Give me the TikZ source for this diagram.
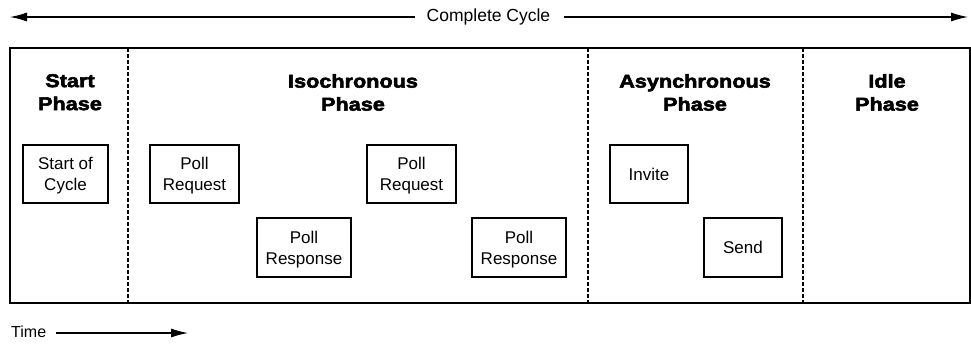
\documentclass[tikz,border=0pt]{standalone}
\usepackage{fontspec}
\setmainfont{Liberation Sans}
\newfontfamily\hdfont[FakeBold=3,FakeStretch=1.17]{Liberation Sans Bold}
\usetikzlibrary{arrows.meta}
\begin{document}
\begin{tikzpicture}[x=1pt,y=-1pt,
  stepbox/.style={draw,line width=1.4pt,inner sep=0pt,align=center,text depth=0pt,
    font=\fontsize{17}{21}\selectfont},
  phasehead/.style={anchor=north,inner sep=0pt,align=center,
    font=\hdfont\fontsize{18.5}{23}\selectfont},
  divider/.style={line width=1.2pt,dash pattern=on 4pt off 2pt},
  arr/.style={line width=1.1pt,-{Latex[length=17pt,width=9pt]}},
  plain/.style={inner sep=0pt,font=\fontsize{17.5}{20}\selectfont}]
\useasboundingbox (0,0) rectangle (971,343);
% top arrow
\node[plain] (cycle) at (488.5,17) {Complete Cycle};
\coordinate (cl) at (10,17);
\coordinate (cr) at (968,17);
\draw[arr] ([xshift=-12pt]cycle.west) -- (cl);
\draw[arr] ([xshift=14pt]cycle.east) -- (cr);
% frame
\draw[line width=1.5pt] (10,48) rectangle (970,303);
\coordinate (d1t) at (128,48); \coordinate (d1b) at (128,303);
\coordinate (d2t) at (588,48); \coordinate (d2b) at (588,303);
\coordinate (d3t) at (803,48); \coordinate (d3b) at (803,303);
\draw[divider] (d1t) -- (d1b);
\draw[divider] (d2t) -- (d2b);
\draw[divider] (d3t) -- (d3b);
% headers
\node[phasehead] (h1) at (70,74) {Start\\Phase};
\node[phasehead] (h2) at (353,74) {Isochronous\\Phase};
\node[phasehead] (h3) at (695,74) {Asynchronous\\Phase};
\node[phasehead] (h4) at (887,74) {Idle\\Phase};
% boxes
\node[stepbox,minimum width=85pt,minimum height=58pt] (soc) at (65.5,174) {Start of\\Cycle};
\node[stepbox,minimum width=89pt,minimum height=58pt] (pr1) at (194.5,174) {Poll\\Request};
\node[stepbox,minimum width=94pt,minimum height=59pt] (ps1) at (304,247.5) {Poll\\Response};
\node[stepbox,minimum width=89pt,minimum height=58pt] (pr2) at (411.5,174) {Poll\\Request};
\node[stepbox,minimum width=94pt,minimum height=59pt] (ps2) at (519,247.5) {Poll\\Response};
\node[stepbox,minimum width=78pt,minimum height=58pt] (inv) at (649,174) {Invite};
\node[stepbox,minimum width=78pt,minimum height=59pt] (snd) at (743,247.5) {Send};
% time arrow
\node[plain,anchor=west,font=\fontsize{16}{18}\selectfont] (time) at (11,332) {Time};
\coordinate (tend) at (188,333);
\draw[arr] ([xshift=10pt]time.east |- tend) -- (tend);
\end{tikzpicture}
\end{document}
